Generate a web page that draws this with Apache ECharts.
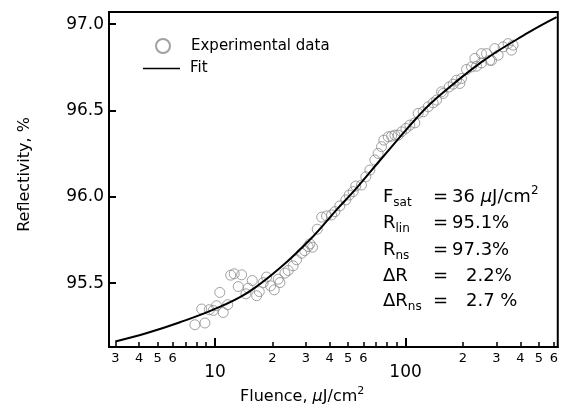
<!DOCTYPE html>
<html>
<head>
<meta charset="utf-8">
<script src="https://cdn.jsdelivr.net/npm/echarts@6/dist/echarts.min.js"></script>
<style>
  html, body { margin: 0; padding: 0; background: #fff; }
  #chart { width: 561px; height: 409px; }
</style>
</head>
<body>
<div id="chart"></div>
<script>
// measured points (fluence in uJ/cm2, reflectivity in %)
var expFluence = [7.85, 8.52, 8.86, 9.33, 9.8, 10.2, 10.6, 11.05, 11.66, 12.09,
    12.62, 13.8, 13.25, 14.54, 14.95, 15.69, 16.55, 17.08, 17.92, 18.66,
    19.59, 20.47, 21.48, 21.93, 23.29, 24.22, 25.7, 26.8, 28.5, 29.6,
    30.8, 31.5, 32.5, 34.4, 36.3, 38.5, 40.9, 42.6, 45.2, 48.6,
    50.6, 53.1, 54.8, 58.7, 61.9, 65.0, 69.0, 71.8, 74.8, 76.9,
    81.1, 84.5, 87.9, 91.5, 95.3, 100.4, 105.3, 111.9, 116.5, 123.7,
    131.4, 139.6, 145.4, 154.5, 157.4, 169.3, 177.7, 185.1, 192.6, 196.6,
    208.8, 221.8, 230.9, 235.6, 250.3, 250.3, 265.9, 276.7, 282.5, 293.9,
    305.9, 325, 345, 359.5, 366.5];
var expReflectivity = [95.259, 95.35, 95.269, 95.346, 95.342, 95.369, 95.446, 95.33, 95.375, 95.546,
    95.554, 95.548, 95.48, 95.438, 95.471, 95.515, 95.427, 95.451, 95.503, 95.535,
    95.484, 95.461, 95.523, 95.503, 95.558, 95.573, 95.6, 95.635, 95.673, 95.688,
    95.712, 95.727, 95.708, 95.812, 95.882, 95.889, 95.895, 95.914, 95.947, 95.982,
    96.01, 96.03, 96.062, 96.068, 96.116, 96.155, 96.213, 96.251, 96.29, 96.328,
    96.347, 96.351, 96.357, 96.357, 96.376, 96.396, 96.415, 96.428, 96.483, 96.492,
    96.521, 96.544, 96.56, 96.608, 96.598, 96.636, 96.652, 96.675, 96.656, 96.685,
    96.737, 96.752, 96.801, 96.756, 96.775, 96.829, 96.829, 96.79, 96.79, 96.858,
    96.82, 96.868, 96.887, 96.849, 96.878];

// fit curve
var fitFluence = [3, 4.4, 6.5, 9.8, 14.7, 21.9, 32.7, 43.4, 55.3, 73.3, 93.3, 114, 140, 250, 440, 620];
var fitReflectivity = [95.162, 95.211, 95.272, 95.346, 95.442, 95.587, 95.77, 95.924, 96.05, 96.21,
    96.345, 96.455, 96.555, 96.78, 96.95, 97.04];

var minorTicks = [3, 4, 5, 6, 7, 8, 9, 20, 30, 40, 50, 60, 70, 80, 90, 200, 300, 400, 500, 600];
var minorLabels = [3, 4, 5, 6, 20, 30, 40, 50, 60, 200, 300, 400, 500, 600];
var majorTicks = [10, 100];
var yTicks = [95.5, 96.0, 96.5, 97.0];

var fnt = 'DejaVu Sans';

var expData = expFluence.map(function (f, i) { return [f, expReflectivity[i]]; });
var fitData = fitFluence.map(function (f, i) { return [f, fitReflectivity[i]]; });

var chart = echarts.init(document.getElementById('chart'));

var subRich = {
    m: { fontFamily: fnt, fontSize: 18, fill: '#000', lineHeight: 22 },
    s: { fontFamily: fnt, fontSize: 12, fill: '#000', padding: [12, 0, 0, 0] },
    i: { fontFamily: fnt, fontSize: 18, fontStyle: 'italic', fill: '#000' },
    p: { fontFamily: fnt, fontSize: 12, fill: '#000', padding: [0, 0, 12, 0] }
};

function paramRow(y, label, sub, value, valueX) {
    return [{
        type: 'text', x: 383, y: y,
        style: { text: '{m|' + label + '}' + (sub ? '{s|' + sub + '}' : ''), rich: subRich, verticalAlign: 'middle' }
    }, {
        type: 'text', x: 433, y: y,
        style: { text: '=', font: '18px ' + fnt, fill: '#000', verticalAlign: 'middle' }
    }, {
        type: 'text', x: valueX, y: y,
        style: { text: value, rich: subRich, verticalAlign: 'middle' }
    }];
}

var graphics = [].concat(
    paramRow(197, 'F', 'sat', '{m|36 }{i|μ}{m|J/cm}{p|2}', 452),
    paramRow(223, 'R', 'lin', '{m|95.1%}', 452),
    paramRow(250, 'R', 'ns', '{m|97.3%}', 452),
    paramRow(276, 'ΔR', '', '{m|2.2%}', 466),
    paramRow(301, 'ΔR', 'ns', '{m|2.7 %}', 466),
    [{
        type: 'text', x: 240, y: 397,
        style: {
            text: '{m|Fluence, }{i|μ}{m|J/cm}{p|2}',
            rich: {
                m: { fontFamily: fnt, fontSize: 16, fill: '#000' },
                i: { fontFamily: fnt, fontSize: 16, fontStyle: 'italic', fill: '#000' },
                p: { fontFamily: fnt, fontSize: 11, fill: '#000', padding: [0, 0, 12, 0] }
            },
            verticalAlign: 'middle'
        }
    }]
);

var option = {
    animation: false,
    backgroundColor: '#fff',
    grid: {
        left: 109, right: 3, top: 12, bottom: 62,
        show: true, borderColor: '#000', borderWidth: 2
    },
    legend: [
        {
            orient: 'vertical',
            left: 150, top: 33,
            itemWidth: 14, itemHeight: 14,
            textStyle: { fontFamily: fnt, fontSize: 15, color: '#000', padding: [0, 0, 0, 16] },
            data: [{ name: 'Experimental data', icon: 'circle' }]
        },
        {
            orient: 'vertical',
            left: 138, top: 56,
            itemWidth: 37, itemHeight: 1.5,
            textStyle: { fontFamily: fnt, fontSize: 15, color: '#000', padding: [0, 0, 0, 5] },
            data: [{ name: 'Fit', icon: 'rect' }]
        }
    ],
    xAxis: [
        {
            type: 'log', min: 2.78, max: 629, position: 'bottom',
            axisLine: { lineStyle: { color: '#000', width: 2 } },
            axisTick: { inside: true, length: 5, customValues: minorTicks, lineStyle: { color: '#000', width: 1.5 } },
            axisLabel: {
                customValues: minorLabels, margin: 5,
                fontFamily: fnt, fontSize: 13, color: '#000',
                formatter: function (v) {
                    return Math.round(v / Math.pow(10, Math.floor(Math.log10(v) + 1e-9)));
                }
            },
            splitLine: { show: false }
        },
        {
            type: 'log', min: 2.78, max: 629, position: 'bottom',
            axisLine: { show: false },
            axisTick: { inside: true, length: 9, customValues: majorTicks, lineStyle: { color: '#000', width: 2 } },
            axisLabel: {
                customValues: majorTicks, margin: 17,
                fontFamily: fnt, fontSize: 17, color: '#000'
            },
            splitLine: { show: false }
        }
    ],
    yAxis: {
        type: 'value', min: 95.13, max: 97.07,
        name: 'Reflectivity, %', nameLocation: 'middle', nameGap: 76,
        nameTextStyle: { fontFamily: fnt, fontSize: 16, color: '#000', padding: [0, 0, 0, 10] },
        axisLine: { lineStyle: { color: '#000', width: 2 } },
        axisTick: { inside: true, length: 7, customValues: yTicks, lineStyle: { color: '#000', width: 2 } },
        axisLabel: {
            customValues: yTicks, margin: 5,
            fontFamily: fnt, fontSize: 17, color: '#000',
            formatter: function (v) { return v.toFixed(1); }
        },
        splitLine: { show: false }
    },
    series: [
        {
            name: 'Experimental data',
            type: 'scatter',
            xAxisIndex: 0,
            symbol: 'circle',
            symbolSize: 10,
            itemStyle: { color: 'rgba(255,255,255,0)', borderColor: '#8a8a8a', borderWidth: 1 },
            data: expData
        },
        {
            name: 'Fit',
            type: 'line',
            xAxisIndex: 0,
            smooth: 0.4,
            symbol: 'none',
            lineStyle: { color: '#000', width: 2 },
            itemStyle: { color: '#000' },
            data: fitData
        }
    ],
    graphic: graphics
};

chart.setOption(option);
</script>
</body>
</html>
